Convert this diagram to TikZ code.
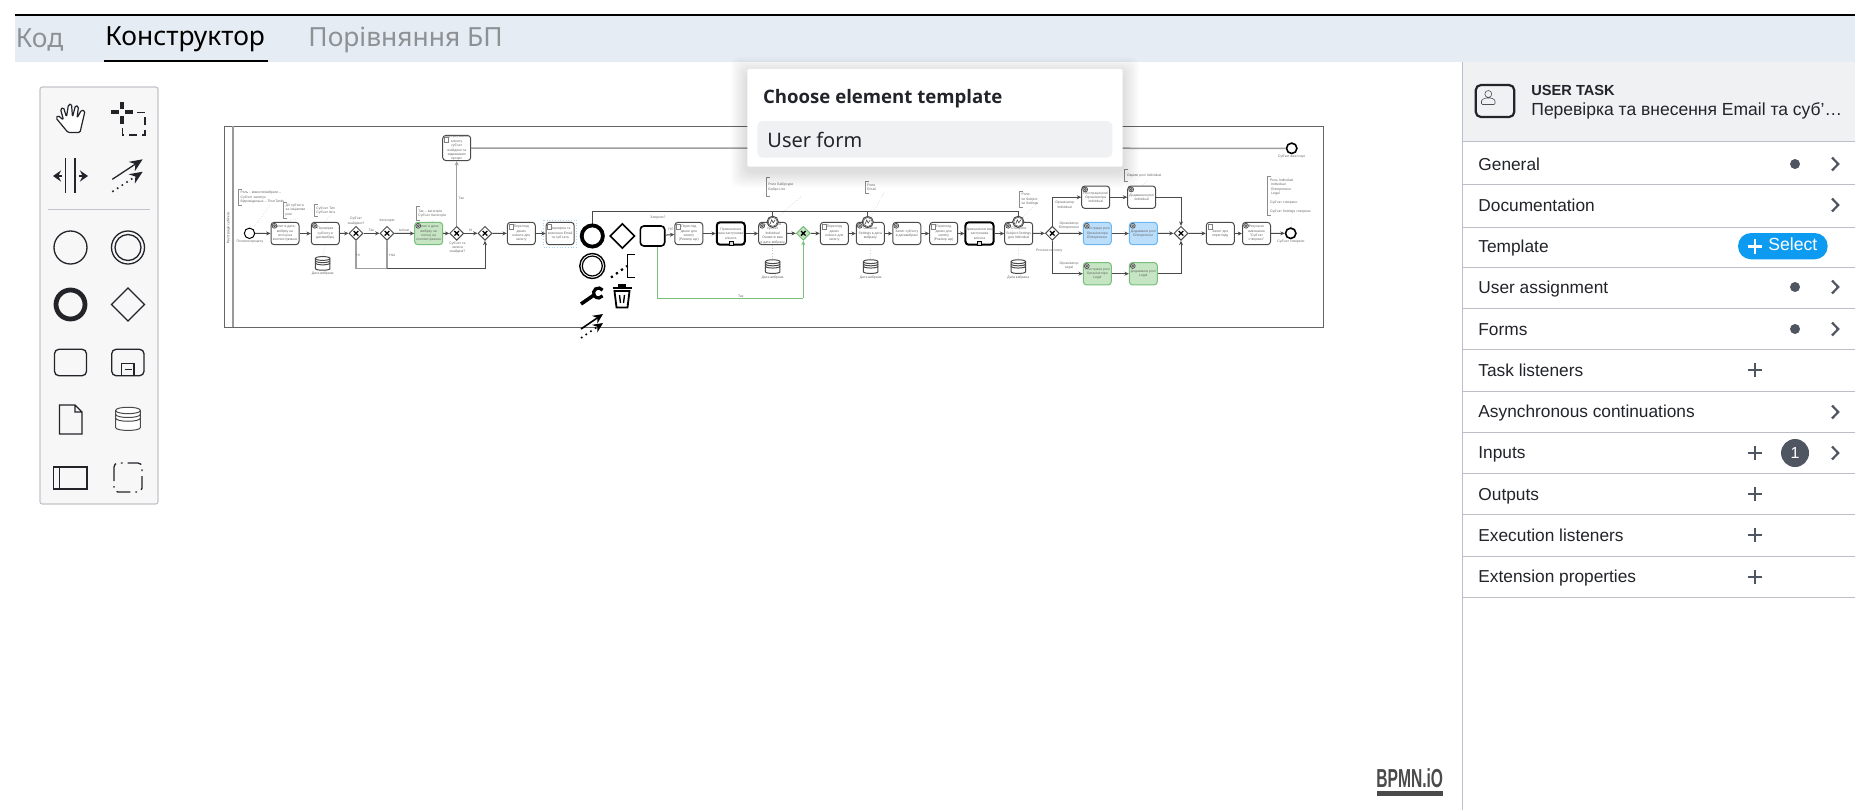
\documentclass[tikz,border=0pt]{standalone}
\usepackage{fontspec}
\usepackage{graphicx}
\usetikzlibrary{arrows.meta,shapes.geometric,calc}
\setmainfont{Liberation Sans}
\newfontfamily\tabfont{Noto Sans}
\newfontfamily\popbold{Open Sans}
\definecolor{barbg}{HTML}{E5ECF3}
\definecolor{tabgrey}{HTML}{8E9194}
\definecolor{tooledge}{HTML}{C4C4CB}
\definecolor{toolbg}{HTML}{F7F7F8}
\definecolor{ink}{HTML}{22242A}
\definecolor{rowline}{HTML}{BCBEC9}
\definecolor{headbg}{HTML}{F0F1F3}
\definecolor{slate}{HTML}{505562}
\definecolor{selectblue}{HTML}{0D9BF2}
\definecolor{flowc}{HTML}{4A4A4A}
\definecolor{dtext}{HTML}{666666}
\definecolor{gfill}{HTML}{C5E5C3}
\definecolor{gline}{HTML}{79BE7C}
\definecolor{bfill}{HTML}{BBDEFB}
\definecolor{bline}{HTML}{6DB7F2}
\newcommand\dtf{\fontsize{1.7}{2.2}\selectfont}
\tikzset{
  taskbox/.style={draw=flowc,fill=white,rounded corners=1.6pt,line width=.5pt,minimum width=14pt,minimum height=11.2pt,inner sep=0pt,align=center,text=dtext,font=\dtf},
  thickbox/.style={taskbox,draw=black,line width=1pt},
  gtask/.style={taskbox,draw=gline,fill=gfill,text=dtext},
  btask/.style={taskbox,draw=bline,fill=bfill,text=dtext},
  gwnode/.style={diamond,aspect=1,draw=flowc,fill=white,line width=.5pt,minimum width=7pt,minimum height=7pt,inner sep=0pt,
    path picture={\draw[line width=.65pt,black] ([shift={(-1.15pt,-1.15pt)}]path picture bounding box.center) -- ([shift={(1.15pt,1.15pt)}]path picture bounding box.center) ([shift={(-1.15pt,1.15pt)}]path picture bounding box.center) -- ([shift={(1.15pt,-1.15pt)}]path picture bounding box.center);}},
  evnode/.style={circle,draw=black,fill=white,line width=.5pt,minimum size=5.2pt,inner sep=0pt},
  endev/.style={evnode,line width=.8pt},
  flow/.style={draw=flowc,line width=.5pt,-{Stealth[length=2.2pt,width=2pt]}},
  plain/.style={draw=flowc,line width=.5pt},
  greyflow/.style={draw=gray!75,line width=.75pt,-{Stealth[length=2.2pt,width=2pt]}},
  gflow/.style={draw=gline,line width=.55pt,-{Stealth[length=2.2pt,width=2pt]}},
  assoc/.style={draw=gray!45,line width=.3pt,densely dotted},
  dlabel/.style={font=\dtf,text=dtext,align=center,inner sep=0pt},
  annotbox/.style={font=\dtf,text=dtext,align=left,inner sep=0pt,inner xsep=1pt,anchor=north west},
  bracket/.style={draw=gray!90,line width=.45pt},
  rowtext/.style={font=\fontsize{8.65}{11}\selectfont,text=ink,anchor=base west,inner sep=0pt},
  chev/.style={draw=slate,line width=1.1pt},
  plusm/.style={draw=slate,line width=1.1pt},
  sep/.style={draw=rowline,line width=.5pt},
  tool/.style={draw=ink,line width=.65pt},
  padtool/.style={draw=black,line width=.8pt},
  tabtext/.style={font=\tabfont\fontsize{13.2}{15}\selectfont,anchor=west,inner sep=0pt}
}
\newcommand\geartk[5]{\node[#4] (#1) at (#2,#3) {#5};
  \draw[line width=.35pt,draw=flowc,fill=gray!35] ($(#1.north west)+(4,4)$) circle (2.4);
  \draw[line width=.25pt,draw=flowc,fill=white] ($(#1.north west)+(4,4)$) circle (1);}
\newcommand\usertk[5]{\node[#4] (#1) at (#2,#3) {#5};
  \draw[line width=.25pt,draw=gray,fill=white] ($(#1.north west)+(2,2)$) rectangle ($(#1.north west)+(6,7)$);}
\newcommand\subtk[5]{\node[#4] (#1) at (#2,#3) {#5};
  \draw[line width=.3pt,draw=black,fill=gray!30] ($(#1.south)+(-2,-4.5)$) rectangle ($(#1.south)+(2,-.5)$);}
\newcommand\gw[4][]{\node[gwnode,#1] (#2) at (#3,#4) {};}
\newcommand\annot[6]{\node[annotbox,minimum height=#4*.5pt,minimum width=#5*.5pt,text width=#5*.5pt] (#1) at (#2,#3) {#6};
  \draw[bracket] ([xshift=1.8pt]#1.north west) -- (#1.north west) -- (#1.south west) -- ([xshift=1.8pt]#1.south west);}
\newcommand\dstore[4]{\node[inner sep=0pt,minimum width=#4*13pt,minimum height=#4*12pt] (#1) at (#2,#3) {};
 \begin{scope}[shift={(#2,#3)},x=#4*.5pt,y=-#4*.5pt]
  \draw[draw=flowc,line width=.5pt,fill=white] (-13,-9) .. controls (-13,-13.5) and (13,-13.5) .. (13,-9) -- (13,9) .. controls (13,13) and (-13,13) .. (-13,9) -- cycle;
  \draw[draw=flowc,line width=.5pt] (-13,-9) .. controls (-13,-4.5) and (13,-4.5) .. (13,-9) (-13,-5) .. controls (-13,-.5) and (13,-.5) .. (13,-5) (-13,-1) .. controls (-13,3.5) and (13,3.5) .. (13,-1);
 \end{scope}}
\newcommand\boundev[3]{\node[evnode,minimum size=5.6pt,draw=flowc] (#1) at (#2,#3) {};
  \draw[draw=flowc,line width=.25pt] (#1) circle (4.5);
  \draw[draw=flowc,line width=.3pt] ($(#1)+(-2.5,2)$) -- ($(#1)+(-1,-2)$) -- ($(#1)+(.5,1)$) -- ($(#1)+(2.5,-2)$);}
\newcommand\rowl[3]{\node[rowtext] (#1) at (1478,#2+5.7) {#3};}
\newcommand\chv[1]{\draw[chev] (1832,#1-6.5) -- (1838.2,#1) -- (1832,#1+6.5);}
\newcommand\dotm[1]{\fill[slate] (1795,#1) circle (5);}
\newcommand\plm[1]{\draw[plusm] (1747.5,#1) -- (1762,#1) (1754.7,#1-7.3) -- (1754.7,#1+7.3);}
\begin{document}
\begin{tikzpicture}[x=.5pt,y=-.5pt]
\useasboundingbox (0,0) rectangle (1872,810);
\fill[white] (0,0) rectangle (1872,810);

% ---------- top bar
\fill[barbg] (15,15) rectangle (1855,62);
\draw[black,line width=1pt] (15,14.5) -- (1855,14.5);
\node[tabtext,text=tabgrey] (tabcode) at (15.5,39.5) {Код};
\node[tabtext,text=black] (tabbuild) at (105,39.5) {Конструктор};
\node[tabtext,text=tabgrey] (tabcmp) at (308,39.5) {Порівняння БП};
\draw[black,line width=1pt] (104,61) -- (268,61);

% ---------- toolbox
\draw[draw=tooledge,fill=toolbg,line width=.6pt,rounded corners=1.2pt] (40,87) rectangle (158,504);
\draw[tool,line width=.6pt,rounded corners=.7pt,line join=round,fill=white] (68,132.5) -- (56,118) -- (58,115.5) -- (63.5,120) -- (60.5,109) -- (63.5,107.5) -- (66.5,117) -- (68.5,104.5) -- (71.5,104) -- (72.5,117) -- (75.5,105.5) -- (78.5,106.5) -- (77,118) -- (81.5,110) -- (85,111) -- (80,132.5) -- cycle;
\draw[tool,line width=2pt] (111,112.3) -- (118.5,112.3) (125,112.3) -- (133,112.3) (121.7,101.7) -- (121.7,109) (121.7,115.5) -- (121.7,124);
\draw[tool,line width=.65pt,dash pattern=on 4pt off 2.5pt] (137,112.3) -- (145,112.3) -- (145,135) -- (122.3,135) -- (122.3,126);
\draw[tool] (65.7,158.3) -- (65.7,192.7) (75,158.3) -- (75,192.7);
\draw[tool,line width=1pt,-{Stealth[length=4pt,width=5.5pt]}] (62,176) -- (53,176);
\draw[tool,line width=1pt,-{Stealth[length=4pt,width=5.5pt]}] (79,176) -- (88,176);
\draw[tool,-{Stealth[length=6.5pt,width=5.5pt]}] (112.3,179.3) -- (142.7,159.3);
\draw[tool,line width=.8pt,dotted,-{Stealth[length=6.5pt,width=5.5pt]}] (112.3,191.7) -- (142.7,171.7);
\draw[draw=tooledge,line width=.5pt] (48,209) -- (150,209);
\draw[tool] (70.5,247.5) circle (16.5);
\draw[tool] (128,247.5) circle (16.5) (128,247.5) circle (13);
\draw[tool,line width=2.4pt] (70.5,304.5) circle (14.5);
\draw[tool] (128,288) -- (144.5,304.5) -- (128,321) -- (111.5,304.5) -- cycle;
\draw[tool,rounded corners=2.2pt] (54.5,349.3) rectangle (86.5,375.7);
\draw[tool,rounded corners=2.2pt] (111.7,349.3) rectangle (144,375.7);
\draw[tool] (121.7,375.7) -- (121.7,363.3) -- (134,363.3) -- (134,375.7) (124.5,369.5) -- (131.5,369.5);
\draw[tool] (59.5,405) -- (75,405) -- (82,412) -- (82,434) -- (59.5,434) -- cycle (75,405) -- (75,412) -- (82,412);
\dstore{toolstore}{128}{419}{.95}
\draw[tool] (53.5,467) rectangle (87,489) (59.5,467) -- (59.5,489);
\draw[tool,rounded corners=2pt,dash pattern=on 7pt off 2.5pt on .8pt off 2.5pt] (114,463) rectangle (142,492);

% ---------- pool
\draw[draw=flowc!85,line width=.5pt] (224,126) rectangle (1323,327);
\draw[draw=gray!80,line width=.6pt] (233,126) -- (233,327);
\node[dlabel,rotate=90,text=flowc] (poolname) at (228.5,228) {Реєстрація суб'єкта};

% ---------- first stage nodes
\node[evnode] (start) at (249.5,233.3) {};
\node[dlabel] (startl) at (250,242) {Початок процесу};
\geartk{t1}{285}{233.5}{taskbox}{Запит в дата-\\вибірку на\\потоці на\\контекстування}
\geartk{t2}{325.3}{233.5}{taskbox}{Перевірка\\суб'єкту в\\датавибірці}
\gw{g1}{356}{233.3}
\gw{g2}{387}{233.3}
\geartk{t3}{428.7}{233.5}{gtask}{Запит в дата-\\вибірку на\\потоці на\\контекстування}
\gw{g3}{456.7}{233.3}
\gw{g4}{485}{233.3}
\usertk{t4}{456.7}{148}{taskbox}{Інформування\\клієнту\\суб'єкт\\знайдено та\\закриваємо\\процес}
\node[endev] (endtop) at (1291.7,148.3) {};
\node[dlabel] (endtopl) at (1291.7,156.7) {Суб'єкт вже існує};
\usertk{t5}{521.3}{233.5}{taskbox}{Перегляд\\даних\\клієнта для\\запиту}
\draw[draw=bline!60,line width=.35pt,densely dotted] (543.5,220) rectangle (576.5,247);
\usertk{t6}{560.2}{233.5}{taskbox}{Перевірка та\\внесення Email\\та суб'єкта}
\dstore{stonec}{322.7}{263.5}{.56}
\node[dlabel] (stonel) at (322.7,274) {Дата вибрана};

\annot{a1}{238.3}{189.3}{15.4}{58}{Роль - вивести/вибрати --\\Суб'єкт запитує\\Відповідальна -- ThunTanks}
\annot{a2}{283.3}{202}{15.3}{25}{Дії суб'єкта\\за ініціативи\\ролі}
\annot{a3}{314}{204.3}{11.4}{26}{Суб'єкт Тип\\Суб'єкт Ім'я}
\annot{a4}{416}{206.3}{13.7}{34}{Так -- категорія\\Суб'єкт Категорія}

\draw[assoc] (a1.south) -- (start);
\draw[assoc] (a2.south) -- (t1.north);
\draw[assoc] (a3.south) -- (t2.north);
\draw[assoc] (a4.south) -- (t3.north);
\draw[assoc] (t2.south) -- (stonec.north);

\draw[flow] (start) -- (t1);
\draw[flow] (t1) -- (t2);
\draw[flow] (t2) -- (g1);
\draw[flow] (g1) -- (g2);
\draw[flow] (g2) -- (t3);
\draw[flow] (t3) -- (g3);
\draw[flow] (g3) -- (g4);
\draw[flow] (g4) -- (t5);
\draw[flow] (t5) -- (t6);
\draw[greyflow] (g3) -- (t4);
\draw[greyflow,-] (t4) -- (endtop);
\draw[greyflow,-] (g1.south) |- (g2.south |- 0,268.3);
\draw[flow] (g2.south |- 0,268.3) -- (g4.south |- 0,268.3) -- (g4.south);
\draw[greyflow,-] (g2.south) -- (g2.south |- 0,268.3);

\node[dlabel] (l1) at (356,221) {Суб'єкт\\знайдено?};
\node[dlabel] (l2) at (371.3,230) {Так};
\node[dlabel] (l3) at (387,221) {Категорія};
\node[dlabel] (l4) at (404.3,230) {Ініт.кат};
\node[dlabel] (l5) at (358,255) {Ні};
\node[dlabel] (l6) at (392.3,255) {Ніні};
\node[dlabel] (l7) at (461.3,198) {Так};
\node[dlabel] (l8) at (470.7,230) {Ні};
\node[dlabel] (l9) at (457.5,247.5) {Суб'єкт та\\записи\\знайдені?};

% ---------- second stage nodes
\usertk{t7}{688.8}{233.5}{taskbox}{Перегляд\\даних для\\запиту\\(Ревізор ще)}
\subtk{t8}{730.8}{233.5}{thickbox}{Призначення\\ваш заступника\\клієнта}
\geartk{t9}{772.7}{233.5}{taskbox}{Створення\\суб'єкт\\Individual\\Оновити ваш\\в дата-вибрану}
\gw[fill=gfill,draw=gline]{g5}{803.3}{233.3}
\usertk{t10}{834.3}{233.5}{taskbox}{Перегляд\\даних\\клієнта для\\запиту}
\geartk{t11}{870.3}{233.5}{taskbox}{Оновити\\Settings в дата\\вибрану}
\geartk{t12}{906.8}{233.5}{taskbox}{Запит суб'єкту\\в датавибрані}
\usertk{t13}{943.7}{233.5}{taskbox}{Перегляд\\даних для\\запиту\\(Ревізор ще)}
\subtk{t14}{979.5}{233.5}{thickbox}{Призначення ваш\\заступника\\клієнта}
\geartk{t15}{1018.7}{233.5}{taskbox}{Створити\\Subject Settings\\для Individual}
\gw{g6}{1052.3}{233.3}
\geartk{t16}{1095.7}{197.2}{taskbox}{Реєстрація ролі\\Організатора\\Individual}
\geartk{t17}{1141.7}{197.2}{taskbox}{Додавання ролі\\Individual}
\geartk{t18}{1097.3}{233.5}{btask}{Реєстрація ролі\\Організатора\\Entrepreneur}
\geartk{t19}{1143.3}{233.5}{btask}{Додавання ролі\\Entrepreneur}
\geartk{t20}{1097.3}{273.7}{gtask}{Реєстрація ролі\\Організатора\\Legal}
\geartk{t21}{1143.3}{273.7}{gtask}{Додавання ролі\\Legal}
\gw{g7}{1181}{233.3}
\usertk{t22}{1220.3}{233.5}{taskbox}{Запит для\\перегляду}
\geartk{t23}{1256.5}{233.5}{taskbox}{Результат\\виконання\\"Суб'єкт\\створено"}
\node[endev] (endmain) at (1290.7,233.3) {};
\node[dlabel] (endmainl) at (1291,242) {Суб'єкт створено};

\boundev{b1}{772.7}{221.8}
\boundev{b2}{867.7}{222}
\boundev{b3}{1018.3}{221.8}
\dstore{st2c}{772.7}{266.7}{.56}
\dstore{st3c}{870.7}{266.7}{.56}
\dstore{st4c}{1018.3}{266.7}{.56}
\node[dlabel] (st2l) at (772.7,278) {Дата вибрана};
\node[dlabel] (st3l) at (870.7,278) {Дата вибрана};
\node[dlabel] (st4l) at (1018.3,278) {Дата вибрана};

\annot{a5}{766}{177.3}{18.7}{30}{Роле Бабірсури\\Бабірсі.лог}
\annot{a6}{865}{181}{11.3}{14}{Роле\\Email}
\annot{a7}{1019.3}{191}{15.7}{22}{Роле:\\Ім Subject\\Ім Settings}
\annot{a8}{1124.7}{169.3}{11.4}{40}{Окремі ролі Individual}
\annot{a9}{1267.7}{176}{39}{44}{Роль Individual\\\ Individual\\\ Entrepreneur\\\ Legal\\[2.2pt]Суб'єкт створено\\[2.2pt]Суб'єкт Settings створено}
\draw[assoc] (a5.south east) -- (b1);
\draw[assoc] (a6.south east) -- (b2);
\draw[assoc] (a7.south) -- (b3);
\draw[assoc] (a8.south) -- (t17.north);
\draw[assoc] (a9.south) -- (endmain);
\draw[assoc] (t9.south) -- (st2c.north);
\draw[assoc] (t11.south) -- (st3c.north);
\draw[assoc] (t15.south) -- (st4c.north);

\draw[flow] (t7) -- (t8);
\draw[flow] (t8) -- (t9);
\draw[flow] (t9) -- (g5);
\draw[flow] (g5) -- (t10);
\draw[flow] (t10) -- (t11);
\draw[flow] (t11) -- (t12);
\draw[flow] (t12) -- (t13);
\draw[flow] (t13) -- (t14);
\draw[flow] (t14) -- (t15);
\draw[flow] (t15) -- (g6);
\draw[flow] (g6) -- (t18);
\draw[flow] (t18) -- (t19);
\draw[flow] (t19) -- (g7);
\draw[flow] (g6.north) |- (t16.west);
\draw[flow] (g6.south) |- (t20.west);
\draw[flow] (t16) -- (t17);
\draw[flow] (t20) -- (t21);
\draw[flow] (t17.east) -| (g7.north);
\draw[flow] (t21.east) -| (g7.south);
\draw[flow] (g7) -- (t22);
\draw[flow] (t22) -- (t23);
\draw[flow] (t23) -- (endmain);

\node[dlabel] (l10) at (1064.7,204.7) {Організатор\\Individual};
\node[dlabel] (l11) at (1069,225.7) {Організатор\\Entrepreneur};
\node[dlabel] (l12) at (1069,265.7) {Організатор\\Legal};
\node[dlabel] (l13) at (1049.3,251) {Process recovery};
\node[dlabel] (l14) at (671,229.3) {Ні?};
\node[dlabel] (l15) at (658,217.7) {Запроси?};
\node[dlabel] (l16) at (740.7,296) {Так};

% ---------- context pad
\node[diamond,aspect=1,draw=black,fill=white,line width=.8pt,minimum width=12.5pt,minimum height=12.5pt,inner sep=0pt] (padgw) at (622.3,236) {};
\node[draw=black,fill=white,rounded corners=1.8pt,line width=.8pt,minimum width=12.2pt,minimum height=10pt,inner sep=0pt] (padtask) at (652.5,236) {};
\node[circle,draw=black,fill=white,line width=.7pt,minimum size=12.5pt,inner sep=0pt] (padint) at (592.3,266) {};
\draw[padtool,line width=.6pt] (padint) circle (10);
\draw[padtool] (635,254.3) -- (627.5,254.3) -- (627.5,277.3) -- (635,277.3);
\draw[padtool,line width=1.1pt,dotted] (611,277.5) -- (627,266);
\draw[padtool,line width=1.8pt] (581,304) -- (594,295);
\draw[padtool,line width=1.6pt] (602.6,290.1) arc (-35:-325:5);
\draw[padtool,line width=.9pt,fill=white] (614.5,291) -- (629.5,291) -- (627.5,307.5) -- (616.5,307.5) -- cycle;
\draw[padtool,line width=1.1pt] (612.5,288) -- (631.5,288) (618,285.5) -- (626,285.5);
\draw[padtool,line width=.7pt] (619.5,295) -- (620.5,303) (624.5,295) -- (623.5,303);
\draw[padtool,-{Stealth[length=5pt,width=4.6pt]}] (581,329) -- (603,314);
\draw[padtool,dotted,-{Stealth[length=5pt,width=4.6pt]}] (581,338) -- (603,323);

\draw[flow] (padtask) -- (t7);
\draw[gflow,-] (padtask.south) ++(5.2,0) |- (g5.south |- 0,298.3);
\draw[gflow] (g5.south |- 0,298.3) -- (g5.south);
\coordinate (padtop) at (592.3,223.5);
\draw[plain,line width=.6pt] (padtop) |- (b3.north |- 0,211.7) -- (b3.north);
\draw[plain,line width=.6pt] (b1.north |- 0,211.7) -- (b1.north);
\draw[plain,line width=.6pt] (b2.north |- 0,211.7) -- (b2.north);
\node[circle,draw=black,fill=white,line width=1.9pt,minimum size=10.6pt,inner sep=0pt] (padend) at (592.3,236) {};

% ---------- popup
\foreach \d in {2,4,...,16}
  \fill[black,opacity=.014,rounded corners=4pt] ({747.3-\d},{73-\d}) rectangle ({1122.7+\d},{171+\d});
\fill[white,rounded corners=.8pt] (747.3,69) rectangle (1122.7,166.7);
\fill[headbg,rounded corners=2.5pt] (757.3,121) rectangle (1112.3,157.7);
\node[font=\popbold\bfseries\fontsize{9.3}{11}\selectfont,text=ink,anchor=west,inner sep=0pt] (poptitle) at (762.7,98.5) {Choose element template};
\node[font=\tabfont\fontsize{10}{11}\selectfont,text=ink,anchor=west,inner sep=0pt] (popitem) at (767,140) {User form};

% ---------- properties panel
\fill[headbg] (1462,62) rectangle (1855,141);
\draw[sep] (1462,62) -- (1462,810);
\draw[draw=ink,line width=1.1pt,rounded corners=2.6pt] (1475.7,85) rectangle (1514.3,117);
\draw[draw=ink!80,line width=.3pt,rounded corners=.5pt] (1481.5,104.5) -- (1481.5,100) -- (1485.5,98) -- (1491.5,98) -- (1495,100) -- (1495,104.5) -- cycle (1488.3,94) circle (3.5);
\node[font=\bfseries\fontsize{7.3}{9}\selectfont,text=ink,anchor=west,inner sep=0pt] (headtype) at (1531,90.7) {USER TASK};
\node[font=\fontsize{8.75}{11}\selectfont,text=ink,anchor=base west,inner sep=0pt] (headname) at (1531,115.5) {Перевірка та внесення Email та суб'…};
\foreach \y in {141,184,227,267,308,349,391,432,473,514,556,597}
  \draw[sep] (1462,\y) -- (1855,\y);
\rowl{r1}{165}{General}
\rowl{r2}{206}{Documentation}
\rowl{r3}{247}{Template}
\rowl{r4}{288}{User assignment}
\rowl{r5}{330}{Forms}
\rowl{r6}{371}{Task listeners}
\rowl{r7}{412}{Asynchronous continuations}
\rowl{r8}{453}{Inputs}
\rowl{r9}{495}{Outputs}
\rowl{r10}{536}{Execution listeners}
\rowl{r11}{577}{Extension properties}
\dotm{164}\chv{164}
\chv{205}
\fill[selectblue,rounded corners=6.5pt] (1738,233) rectangle (1827.7,259.3);
\draw[white,line width=1.1pt] (1747.5,246.5) -- (1762,246.5) (1754.7,239) -- (1754.7,254);
\node[font=\fontsize{8.8}{11}\selectfont,text=white,anchor=base west,inner sep=0pt] (selecttext) at (1768,250.5) {Select};
\dotm{287}\chv{287}
\dotm{329}\chv{329}
\plm{370}
\chv{412}
\plm{453}\chv{453}
\node[circle,fill=slate,text=white,minimum size=14pt,inner sep=0pt,font=\fontsize{8}{9}\selectfont] (badge) at (1795,453) {1};
\plm{494}
\plm{535}
\plm{577}

% ---------- logo
\node[font=\bfseries\fontsize{13}{14}\selectfont,text=flowc,inner sep=0pt,anchor=center] (logo) at (1409.7,778.5) {\scalebox{.6}[1]{BPMN.iO}};
\fill[flowc] (1376.7,790.7) rectangle (1442.7,795.5);
\end{tikzpicture}
\end{document}
